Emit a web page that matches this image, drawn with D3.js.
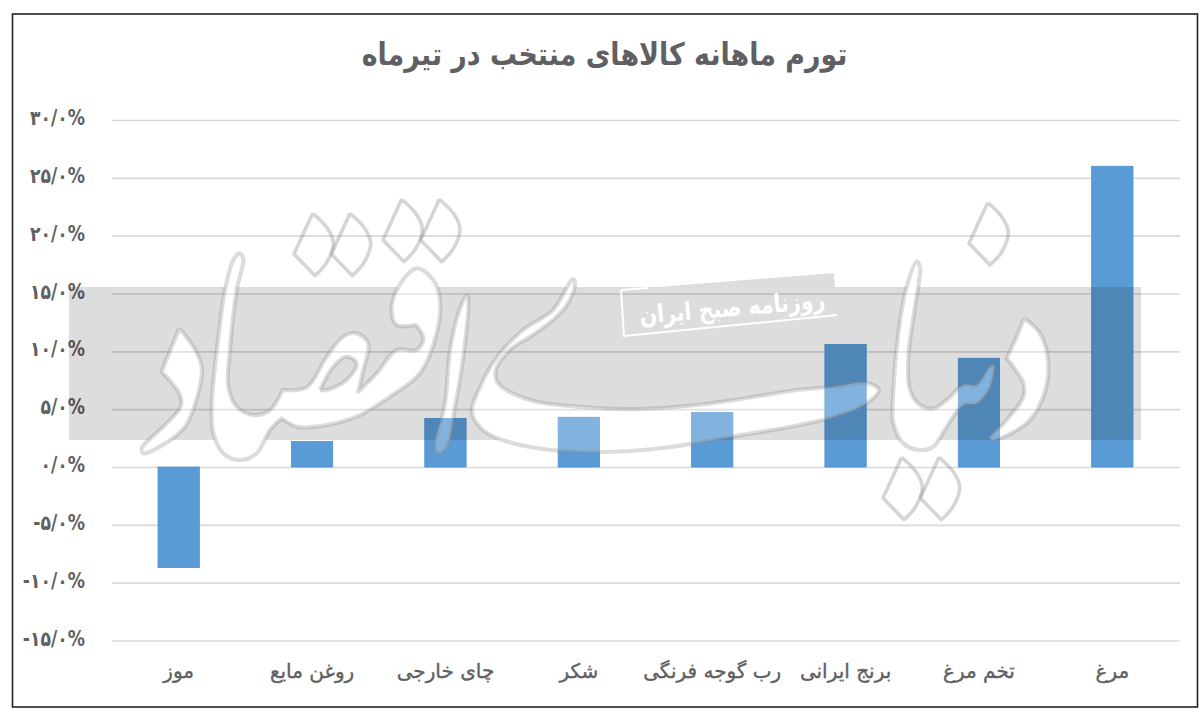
<!DOCTYPE html>
<html lang="fa"><head><meta charset="utf-8">
<script src="https://cdn.jsdelivr.net/npm/d3@7/dist/d3.min.js"></script>
<style>html,body{margin:0;background:#fff}svg{display:block}
text{font-family:"DejaVu Sans",sans-serif}</style></head><body><svg id="c" width="1200" height="712"></svg>
<script>
const titleText="تورم ماهانه کالاهای منتخب در تیرماه";
const stampText="روزنامه صبح ایران";
const categories=["موز","روغن مایع","چای خارجی","شکر","رب گوجه فرنگی","برنج ایرانی","تخم مرغ","مرغ"];
const values=[-8.7,2.2,4.2,4.3,4.7,10.6,9.4,26.0];
const tickValues=[-15,-10,-5,0,5,10,15,20,25,30];
const svg=d3.select("#c");
const fa=d3.formatLocale({decimal:"/",thousands:"",grouping:[3],currency:["",""],numerals:["۰","۱","۲","۳","۴","۵","۶","۷","۸","۹"],percent:"%",minus:"-"}).format(".1%");
const x=d3.scaleBand().domain(categories).range([112,1179]).paddingInner(.69).paddingOuter(.345);
const y=d3.scaleLinear().domain([-15,30]).range([640.5,120]);
const TXT="#606062";

// frame
svg.append("rect").attr("x",12.5).attr("y",14).attr("width",1185).attr("height",693).attr("fill","#fff").attr("stroke","#222").attr("stroke-width",1.6);

// title
svg.append("text").attr("transform","translate(604.5,65) scale(.867,1)").attr("text-anchor","middle").attr("direction","rtl")
  .attr("font-size",31).attr("font-weight","bold").attr("fill",TXT).text(titleText);

// grid + y labels via axis
const yAxis=d3.axisLeft(y).tickValues(tickValues).tickFormat(v=>fa(v/100)).tickSize(-(1180-112)).tickPadding(27);
const gy=svg.append("g").attr("transform","translate(112,0)").call(yAxis);
gy.select(".domain").remove();
gy.selectAll("line").attr("stroke","#d9d9d9").attr("stroke-width",1.6);
gy.selectAll("text").attr("x",0).attr("transform","translate(-27,-2) scale(.84,1)").attr("font-size",20.5).attr("font-weight","bold").attr("fill",TXT)
  .style("direction","ltr").style("unicode-bidi","bidi-override");

// x labels via axis
const xAxis=d3.axisBottom(x).tickSize(0).tickPadding(0);
const gx=svg.append("g").attr("transform","translate(0,670)").call(xAxis);
gx.select(".domain").remove();
gx.selectAll("text").attr("font-size",20).attr("fill",TXT).attr("stroke",TXT).attr("stroke-width",.35).attr("direction","rtl").attr("dy","0.42em");

// bars
svg.append("g").selectAll("rect").data(values).join("rect")
  .attr("x",(d,i)=>x(categories[i])).attr("width",x.bandwidth())
  .attr("y",d=>y(Math.max(d,0))).attr("height",d=>Math.abs(y(d)-y(0)))
  .attr("fill","#5b9bd5").attr("stroke","#4a90d4").attr("stroke-width",.8);

// watermark decoration (traced outlines); a third element marks a sharp corner
const z4=p=>[130+p[0]/3,190+p[1]/3], z6=p=>[800+p[0]/3,190+p[1]/3], pg=p=>[p[0],p[1]];
const shape=(f,a)=>a.flatMap(p=>p[2]?[f(p),f(p)]:[f(p)]);
const lineC=d3.line().curve(d3.curveCatmullRomClosed.alpha(.5));
const solid=[
 shape(z4,[[148,415,1],[190,470],[215,530],[205,610],[165,710],[90,770],[40,790],[35,775],[100,710],[152,650],[150,615],[95,545,1],[125,470]]),
 shape(z4,[[328,190],[340,205],[320,300],[300,480],[295,590],[320,650],[370,675],[420,660],[458,600,1],[530,592],[590,500],[640,440],[680,430],[715,460],[700,540],[685,605,1],[740,550],[800,480],[860,480],[880,445],[858,405,1],[800,405],[785,370],[800,300],[860,235],[910,270],[930,330],[920,430],[870,550],[780,620],[680,680],[560,710],[500,710],[455,685,1],[420,720],[380,790],[330,810],[280,790],[250,730],[245,650],[270,400],[285,300],[310,210]]),
 shape(z4,[[1010,315],[1015,330],[1000,500],[975,650],[950,770],[925,790],[915,775],[945,640],[960,480],[985,370]]),
 shape(pg,[[573,279],[575,285],[567,305],[553,320],[533,335],[510,350],[496,370],[498,383],[530,400],[583,407],[637,409],[697,405],[747,398],[797,390],[833,387],[867,383],[879,390],[867,403],[833,417],[800,425],[730,437],[663,448],[597,452],[530,447],[487,433],[472,413],[480,387],[497,357],[523,330],[553,310]]),
 shape(z6,[[350,215],[360,230],[345,350],[325,500],[330,600],[360,645],[400,655],[440,630],[490,585],[530,585],[570,530],[580,525],[570,590],[530,640],[490,645],[440,710],[400,770],[360,780],[310,760],[280,700],[280,600],[295,430],[320,290]]),
 shape(z6,[[672,385,1],[720,430],[745,520],[730,620],[680,700],[580,750],[570,745],[620,690],[670,620],[670,580],[620,505,1],[650,440]])
];
const hole=shape(z4,[[570,600,1],[610,530],[650,500],[680,520],[650,570],[590,600]]);
const dotList=(a)=>[[a[0],a[1],1],[a[0]+42,a[1]+42],[a[0]+62,a[1]+88],[a[0]+42,a[1]+148],[a[0]+7,a[1]+187,1],[a[0]-56,a[1]+122,1]];
const dots=[[548,70],[660,70],[815,28],[928,28]].map(a=>shape(z4,dotList(a)))
  .concat([[563,38],[305,802],[417,802]].map(a=>shape(z6,dotList(a))));
const solidPath=solid.map(a=>lineC(a)).join("")+lineC(hole);
const stamp=[[621,290],[834,273],[837,315],[624,336]];
const bandX0=69,bandX1=1141,bandY0=287,bandY1=440;
const defs=svg.append("defs");
const m=defs.append("mask").attr("id","cut").attr("maskUnits","userSpaceOnUse").attr("x",0).attr("y",0).attr("width",1200).attr("height",712);
m.append("rect").attr("width",1200).attr("height",712).attr("fill","#fff");
m.append("path").attr("d",solidPath).attr("fill","#000").attr("fill-rule","evenodd");
const wm=svg.append("g");
const bandPath=`M${bandX0},${bandY0}L${bandX1},${bandY0}L${bandX1},${bandY1}L${bandX0},${bandY1}Z`
  +"M"+stamp.map(p=>p.join(",")).join("L")+"Z";
wm.append("path").attr("d",bandPath).attr("fill","#000").attr("fill-opacity",.135).attr("mask","url(#cut)");
wm.append("path").attr("d",solidPath).attr("fill","#fff").attr("fill-opacity",.24).attr("fill-rule","evenodd");
wm.append("path").attr("d",solidPath).attr("fill","none").attr("stroke","#8a8a8a").attr("stroke-opacity",.3).attr("stroke-width",4.2).attr("stroke-linejoin","round");
wm.selectAll("path.dot").data(dots).join("path").attr("class","dot").attr("d",d=>lineC(d)).attr("fill","none").attr("stroke","#8a8a8a").attr("stroke-opacity",.36).attr("stroke-width",3.6).attr("stroke-linejoin","round");
// stamp
wm.append("path").attr("d","M"+stamp[0].join(",")+"L"+stamp[3].join(",")+"L"+stamp[2].join(",")).attr("fill","none").attr("stroke","#fff").attr("stroke-width",2);
wm.append("path").attr("d","M621,290L648,288").attr("fill","none").attr("stroke","#fff").attr("stroke-width",2);
wm.append("text").attr("transform","translate(733,316) rotate(-5) scale(.82,1)").attr("text-anchor","middle").attr("direction","rtl")
  .attr("font-size",25).attr("font-weight","bold").attr("fill","#fff").text(stampText);
</script></body></html>
